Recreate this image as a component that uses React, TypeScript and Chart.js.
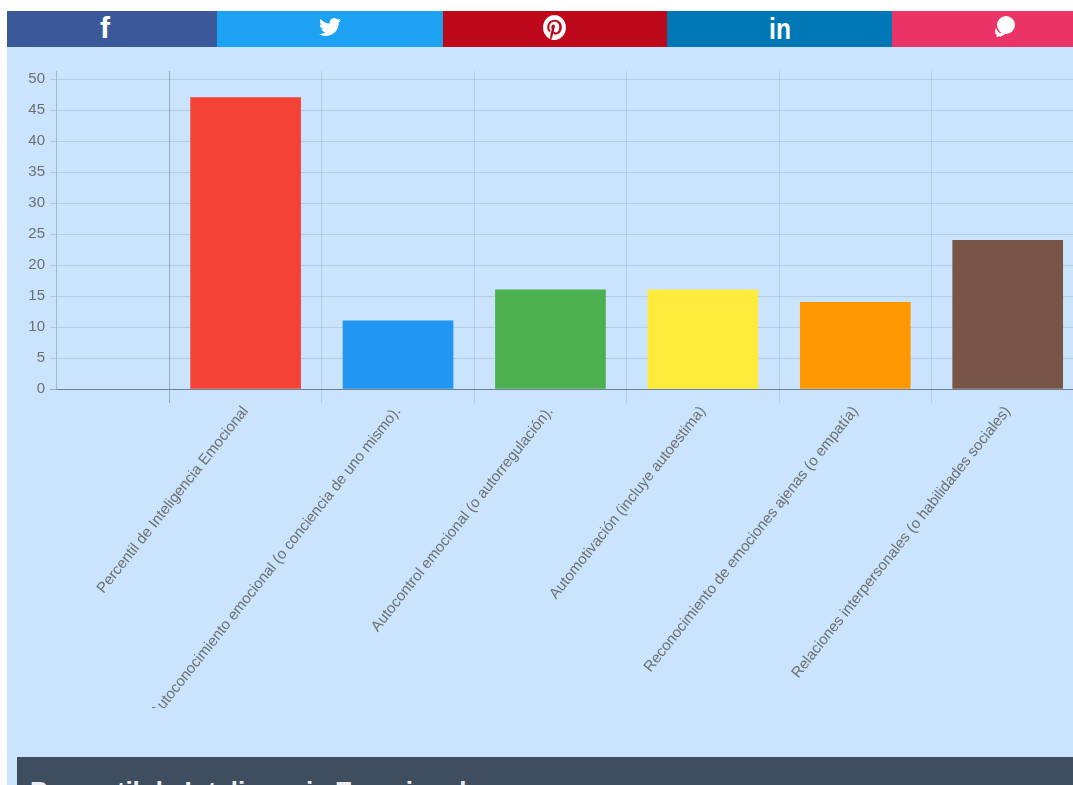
import React, { useEffect, useRef } from "react";
import { Chart, registerables } from "chart.js";

Chart.register(...registerables);

const categories = [
  "Percentil de Inteligencia Emocional",
  "Autoconocimiento emocional (o conciencia de uno mismo).",
  "Autocontrol emocional (o autorregulación).",
  "Automotivación (incluye autoestima)",
  "Reconocimiento de emociones ajenas (o empatía)",
  "Relaciones interpersonales (o habilidades sociales)",
];
const seriesValues = [47, 11, 16, 16, 14, 24];
const barColors = ["#F44336", "#2196F3", "#4CAF50", "#FFEB3B", "#FF9800", "#795548"];
const FONT = '"Liberation Sans", Arial, sans-serif';
const X_MIN = -0.744;

const abs = (s: React.CSSProperties): React.CSSProperties => ({ position: "absolute", ...s });

const shareBlocks = [
  { left: 7, width: 210, color: "#3B5998" },
  { left: 217, width: 226, color: "#1DA1F2" },
  { left: 443, width: 224, color: "#BD081C" },
  { left: 667, width: 225, color: "#0077B5" },
  { left: 892, width: 181, color: "#EA3366" },
];

export default function App() {
  const ref = useRef<HTMLCanvasElement>(null);
  useEffect(() => {
    const chart = new Chart(ref.current!, {
      type: "bar",
      data: {
        datasets: [
          {
            data: seriesValues.map((y, i) => ({ x: i + 0.5, y })),
            backgroundColor: barColors,
            barThickness: 110,
          },
        ],
      },
      options: {
        animation: false,
        responsive: false,
        layout: { padding: { top: 24, right: 0, left: 0, bottom: 0 } },
        plugins: { legend: { display: false }, tooltip: { enabled: false } },
        scales: {
          x: {
            type: "linear",
            offset: false,
            min: X_MIN,
            max: 6,
            afterBuildTicks: (scale: any) => {
              const t: any[] = [{ value: X_MIN }];
              for (let i = 0; i < categories.length; i++) {
                t.push({ value: i }, { value: i + 0.5 });
              }
              t.push({ value: 6 });
              scale.ticks = t;
            },
            afterFit: (scale: any) => {
              scale.height = 319;
            },
            border: { color: "rgba(0,0,0,0.25)", width: 1 },
            grid: {
              offset: false,
              tickLength: 14,
              color: (c: any) => {
                const v = c.tick?.value;
                if (v === 0) return "rgba(0,0,0,0.25)";
                if (v !== undefined && v % 1 !== 0 && v !== X_MIN) return "rgba(0,0,0,0)";
                return "rgba(0,0,0,0.1)";
              },
              tickColor: (c: any) => {
                const v = c.tick?.value;
                if (v === 0) return "rgba(0,0,0,0.25)";
                if (v !== undefined && v % 1 !== 0) return "rgba(0,0,0,0)";
                return "rgba(0,0,0,0.1)";
              },
            },
            ticks: {
              autoSkip: false,
              minRotation: 51.5,
              maxRotation: 51.5,
              padding: 0,
              color: "#6E6E6E",
              font: { family: FONT, size: 15 },
              callback: (v: any) => (v % 1 === 0.5 ? categories[Math.floor(v)] : ""),
            },
          },
          y: {
            min: 0,
            max: 51.3,
            afterFit: (scale: any) => {
              scale.width = 49;
            },
            border: { color: "rgba(0,0,0,0.1)" },
            grid: {
              tickLength: 6,
              color: (c: any) => (c.tick?.value === 0 ? "rgba(0,0,0,0.25)" : "rgba(0,0,0,0.1)"),
            },
            ticks: {
              stepSize: 5,
              includeBounds: false,
              padding: 5,
              color: "#6E6E6E",
              font: { family: FONT, size: 15 },
            },
          },
        },
      },
    } as any);
    return () => chart.destroy();
  }, []);

  return (
    <div style={abs({ position: "fixed", inset: 0, overflow: "hidden", background: "#fff", fontFamily: FONT })}>
      <div style={abs({ left: 7, top: 47, width: 1066, height: 738, background: "#CAE4FE" })} />
      {shareBlocks.map((b) => (
        <div key={b.left} style={abs({ left: b.left, top: 11, width: b.width, height: 36, background: b.color })} />
      ))}
      <div style={abs({ left: 95, top: 11, width: 20, height: 36, lineHeight: "33px", textAlign: "center", color: "#fff", fontWeight: 700, fontSize: 30 })}>f</div>
      <svg style={abs({ left: 319, top: 16, width: 22, height: 22 })} viewBox="0 0 24 24" fill="#fff">
        <path d="M23.953 4.57a10 10 0 01-2.825.775 4.958 4.958 0 002.163-2.723c-.951.555-2.005.959-3.127 1.184a4.92 4.92 0 00-8.384 4.482C7.69 8.095 4.067 6.13 1.64 3.162a4.822 4.822 0 00-.666 2.475c0 1.71.87 3.213 2.188 4.096a4.904 4.904 0 01-2.228-.616v.06a4.923 4.923 0 003.946 4.827 4.996 4.996 0 01-2.212.085 4.936 4.936 0 004.604 3.417 9.867 9.867 0 01-6.102 2.105c-.39 0-.779-.023-1.17-.067a13.995 13.995 0 007.557 2.209c9.053 0 13.998-7.496 13.998-13.985 0-.21 0-.42-.015-.63A9.935 9.935 0 0024 4.59z" />
      </svg>
      <svg style={abs({ left: 543, top: 15, width: 23, height: 25 })} viewBox="0 0 24 24" fill="#fff" preserveAspectRatio="none">
        <path d="M12.017 0C5.396 0 .029 5.367.029 11.987c0 5.079 3.158 9.417 7.618 11.162-.105-.949-.199-2.403.041-3.439.219-.937 1.406-5.957 1.406-5.957s-.359-.72-.359-1.781c0-1.663.967-2.911 2.168-2.911 1.024 0 1.518.769 1.518 1.688 0 1.029-.653 2.567-.992 3.992-.285 1.193.6 2.165 1.775 2.165 2.128 0 3.768-2.245 3.768-5.487 0-2.861-2.063-4.869-5.008-4.869-3.41 0-5.409 2.562-5.409 5.199 0 1.033.394 2.143.889 2.741.099.12.112.225.085.345-.09.375-.293 1.199-.334 1.363-.053.225-.172.271-.401.165-1.495-.69-2.433-2.878-2.433-4.646 0-3.776 2.748-7.252 7.92-7.252 4.158 0 7.392 2.967 7.392 6.923 0 4.135-2.607 7.462-6.233 7.462-1.214 0-2.354-.629-2.758-1.379l-.749 2.848c-.269 1.045-1.004 2.352-1.498 3.146 1.123.345 2.306.535 3.55.535 6.607 0 11.985-5.365 11.985-11.987C23.97 5.39 18.592.026 11.985.026L12.017 0z" />
      </svg>
      <div style={abs({ left: 760, top: 11, width: 40, height: 36, lineHeight: "35px", textAlign: "center", color: "#fff", fontWeight: 700, fontSize: 30, transform: "scaleX(0.82)" })}>in</div>
      <svg style={abs({ left: 994, top: 15, width: 22, height: 24 })} viewBox="0 0 22 24" fill="#fff">
        <circle cx="12" cy="10" r="9" />
        <path d="M7 17l-1 5 7-4z" />
        <path d="M2 13c-1.500 3-1 6 1 7l-1 2 6-1 1-2c-3 0-6-3-7-6z" />
      </svg>
      <canvas ref={ref} width={1091} height={661} style={abs({ left: 7, top: 47, width: 1091, height: 661 })} />
      <div style={abs({ left: 17, top: 757, width: 1056, height: 28, background: "#3E4E5E", overflow: "hidden" })}>
        <div style={abs({ left: 13, top: 19, color: "#EEEEEE", fontWeight: 700, fontSize: 26, lineHeight: "30px", whiteSpace: "nowrap" })}>
          Percentil de Inteligencia Emocional
        </div>
      </div>
    </div>
  );
}
